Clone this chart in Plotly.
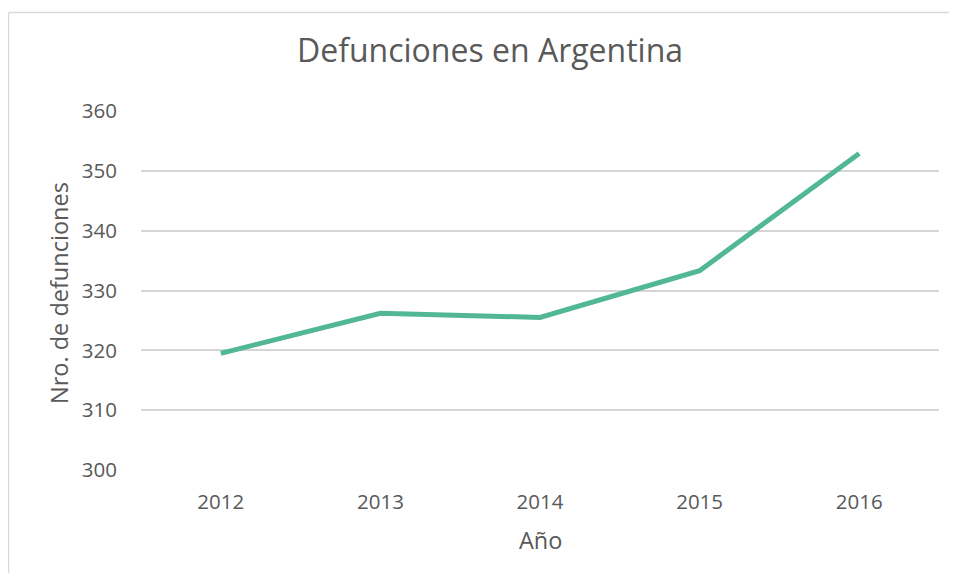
import plotly.graph_objects as go

years = ["2012", "2013", "2014", "2015", "2016"]
deaths = [319.5, 326.2, 325.5, 333.3, 352.9]
y_ticks = [300, 310, 320, 330, 340, 350, 360]

title_text = "Defunciones en Argentina"
x_title = "Año"
y_title = "Nro. de defunciones"

# page body has an 8px margin: figure pixel (x, y) shows at (x+8, y+8)
OFF = 8
W, H = 957 - 2 * OFF, 581 - 2 * OFF
L, T = 141 - OFF, 111 - OFF
plot_bottom = 470 - OFF
plot_right = 939 - OFF
R = W - plot_right
B = H - plot_bottom
pw, ph = W - L - R, H - T - B

def px(x):
    return (x - OFF - L) / pw

def py(y):
    return (plot_bottom - (y - OFF)) / ph

grey = "#595959"
font = "Open Sans, Segoe UI, Calibri, sans-serif"
border = "#D9D9D9"

fig = go.Figure()
fig.add_trace(go.Scatter(
    x=years, y=deaths, mode="lines",
    line=dict(color="#52B894", width=5),
    hoverinfo="skip",
))

fig.update_layout(
    width=W, height=H, autosize=False,
    margin=dict(l=L, r=R, t=T, b=B, pad=0),
    paper_bgcolor="white", plot_bgcolor="white",
    showlegend=False,
    font=dict(family=font, color=grey, size=20),
    xaxis=dict(
        type="category", range=[-0.5, 4.5],
        showgrid=False, zeroline=False, showline=False,
        ticks="", ticklabelstandoff=17,
        tickfont=dict(size=20.5, color=grey),
    ),
    yaxis=dict(
        range=[300, 360], tickvals=y_ticks,
        showgrid=True, gridcolor="#D5D5D5", gridwidth=1.6,
        zeroline=False, showline=False,
        ticks="", ticklabelstandoff=23,
        tickfont=dict(size=20.5, color=grey),
    ),
    shapes=[
        dict(type="line", xref="paper", yref="paper",
             x0=px(8.5), x1=px(8.5), y0=py(700), y1=py(12.5),
             line=dict(color=border, width=1.5), layer="below"),
        dict(type="line", xref="paper", yref="paper",
             x0=px(8.5), x1=px(1100), y0=py(12.5), y1=py(12.5),
             line=dict(color=border, width=1.5), layer="below"),
    ],
    annotations=[
        dict(text=title_text, xref="paper", yref="paper",
             x=px(489.5), y=py(50), xanchor="center", yanchor="middle",
             showarrow=False, font=dict(size=32, color=grey, family=font)),
        dict(text=x_title, xref="paper", yref="paper",
             x=px(540), y=py(540), xanchor="center", yanchor="middle",
             showarrow=False, font=dict(size=23.5, color=grey, family=font)),
        dict(text=y_title, xref="paper", yref="paper",
             x=px(59), y=py(293), xanchor="center", yanchor="middle",
             textangle=-90,
             showarrow=False, font=dict(size=23.5, color=grey, family=font)),
    ],
)

fig.write_html("out.html")
